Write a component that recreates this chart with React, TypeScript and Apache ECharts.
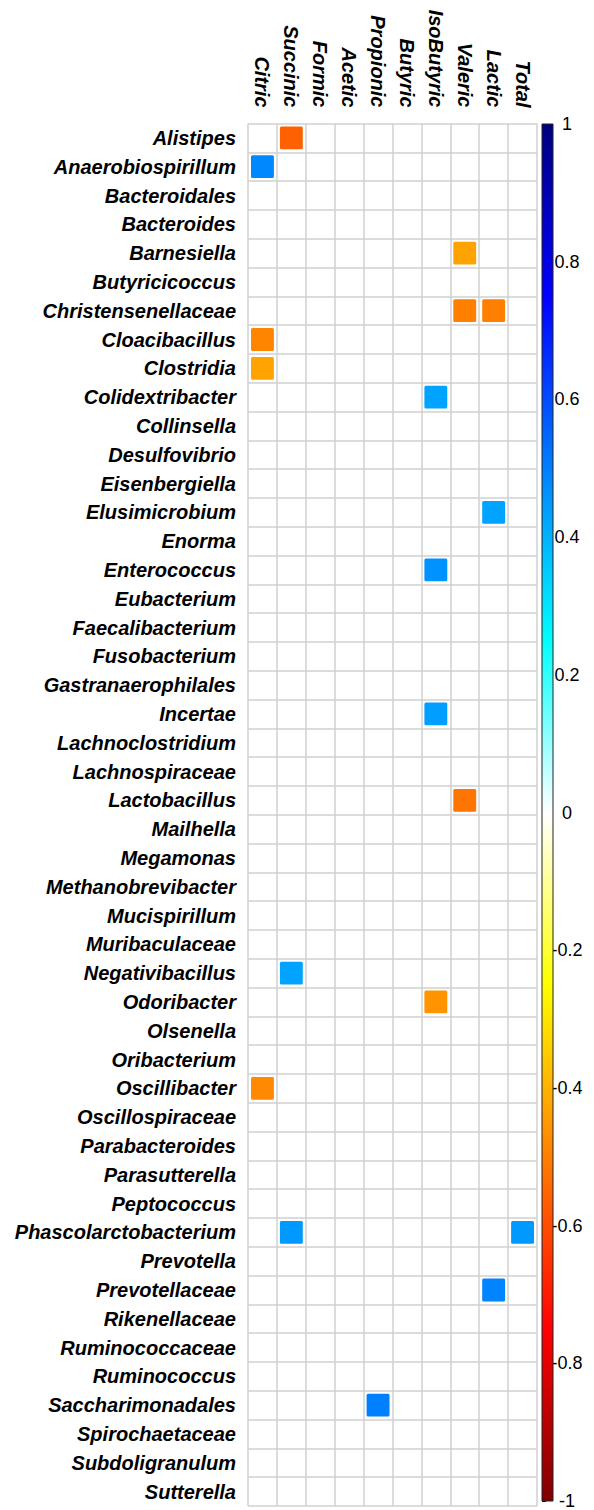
import React, { useEffect, useRef } from "react";
import * as echarts from "echarts";

const acids = ["Citric", "Succinic", "Formic", "Acetic", "Propionic", "Butyric", "IsoButyric", "Valeric", "Lactic", "Total"];

const genera = [
  "Alistipes", "Anaerobiospirillum", "Bacteroidales", "Bacteroides", "Barnesiella", "Butyricicoccus",
  "Christensenellaceae", "Cloacibacillus", "Clostridia", "Colidextribacter", "Collinsella", "Desulfovibrio",
  "Eisenbergiella", "Elusimicrobium", "Enorma", "Enterococcus", "Eubacterium", "Faecalibacterium",
  "Fusobacterium", "Gastranaerophilales", "Incertae", "Lachnoclostridium", "Lachnospiraceae", "Lactobacillus",
  "Mailhella", "Megamonas", "Methanobrevibacter", "Mucispirillum", "Muribaculaceae", "Negativibacillus",
  "Odoribacter", "Olsenella", "Oribacterium", "Oscillibacter", "Oscillospiraceae", "Parabacteroides",
  "Parasutterella", "Peptococcus", "Phascolarctobacterium", "Prevotella", "Prevotellaceae", "Rikenellaceae",
  "Ruminococcaceae", "Ruminococcus", "Saccharimonadales", "Spirochaetaceae", "Subdoligranulum", "Sutterella",
];

// significant correlations per acid: [genus, r]
const citricR: [string, number][] = [["Anaerobiospirillum", 0.48], ["Cloacibacillus", -0.49], ["Clostridia", -0.43], ["Oscillibacter", -0.48]];
const succinicR: [string, number][] = [["Alistipes", -0.56], ["Negativibacillus", 0.43], ["Phascolarctobacterium", 0.45]];
const propionicR: [string, number][] = [["Saccharimonadales", 0.5]];
const isoButyricR: [string, number][] = [["Colidextribacter", 0.43], ["Enterococcus", 0.46], ["Incertae", 0.44], ["Odoribacter", -0.46]];
const valericR: [string, number][] = [["Barnesiella", -0.43], ["Christensenellaceae", -0.5], ["Lactobacillus", -0.52]];
const lacticR: [string, number][] = [["Christensenellaceae", -0.5], ["Elusimicrobium", 0.43], ["Prevotellaceae", 0.49]];
const totalR: [string, number][] = [["Phascolarctobacterium", 0.45]];

const byAcid: Record<string, [string, number][]> = {
  Citric: citricR,
  Succinic: succinicR,
  Propionic: propionicR,
  IsoButyric: isoButyricR,
  Valeric: valericR,
  Lactic: lacticR,
  Total: totalR,
};

const scaleTicks = [1, 0.8, 0.6, 0.4, 0.2, 0, -0.2, -0.4, -0.6, -0.8, -1];
const palette = ["#7F0000", "#FF0000", "#FF7F00", "#FFFF00", "#FFFFFF", "#00FFFF", "#007FFF", "#0000FF", "#00007F"];

const FONT = "'Liberation Sans', Arial, Helvetica, sans-serif";

export default function App() {
  const ref = useRef<HTMLDivElement>(null);

  useEffect(() => {
    if (!ref.current) return;
    const chart = echarts.init(ref.current, undefined, { renderer: "svg" });

    const cells: number[][] = [];
    acids.forEach((a, xi) => {
      (byAcid[a] || []).forEach(([g, r]) => {
        cells.push([xi, genera.indexOf(g), r]);
      });
    });

    const stops = palette
      .slice()
      .reverse()
      .map((c, i) => ({ offset: i / (palette.length - 1), color: c }));

    const labelStyle = {
      fontFamily: FONT,
      fontSize: 20,
      fontWeight: "bold" as const,
      fontStyle: "italic" as const,
      color: "#000",
    };

    chart.setOption({
      animation: false,
      backgroundColor: "#fff",
      grid: [
        { left: 248, top: 123.5, width: 289, height: 1382.5, show: false },
        { left: 542, top: 124, width: 11, height: 1381, show: false },
      ],
      xAxis: [
        {
          gridIndex: 0,
          type: "category",
          data: acids,
          position: "top",
          axisLine: { show: false },
          axisTick: { show: false },
          splitLine: { show: true, lineStyle: { color: "#d0d0d0", width: 1.5 } },
          axisLabel: { ...labelStyle, rotate: 90, margin: 16, interval: 0 },
        },
        { gridIndex: 1, type: "value", min: 0, max: 1, show: false },
      ],
      yAxis: [
        {
          gridIndex: 0,
          type: "category",
          data: genera,
          inverse: true,
          axisLine: { show: false },
          axisTick: { show: false },
          splitLine: { show: true, lineStyle: { color: "#d0d0d0", width: 1.5 } },
          axisLabel: { ...labelStyle, margin: 12, interval: 0 },
        },
        {
          gridIndex: 1,
          type: "value",
          min: -1,
          max: 1,
          interval: 0.2,
          position: "right",
          splitLine: { show: false },
          axisLine: { show: false },
          axisTick: { show: true, length: 4, lineStyle: { color: "#000", width: 1 } },
          axisLabel: {
            fontFamily: FONT,
            fontSize: 18,
            color: "#000",
            align: "center",
            margin: 14,
            formatter: (v: number) => {
              const r = Math.round(v * 10) / 10;
              return scaleTicks.includes(r) ? (r === 0 ? "0" : String(r)) : "";
            },
          },
        },
      ],
      visualMap: {
        show: false,
        type: "continuous",
        min: -1,
        max: 1,
        dimension: 2,
        seriesIndex: 0,
        inRange: { color: palette },
      },
      series: [
        {
          type: "custom",
          xAxisIndex: 0,
          yAxisIndex: 0,
          encode: { x: 0, y: 1 },
          data: cells,
          renderItem: (params: any, api: any) => {
            const c = api.coord([api.value(0), api.value(1)]);
            const s = api.size([1, 1]);
            const w = s[0] - 6;
            const h = s[1] - 6;
            return {
              type: "rect",
              shape: { x: c[0] - w / 2, y: c[1] - h / 2, width: w, height: h, r: 1.5 },
              style: { fill: api.visual("color") },
            };
          },
        },
        {
          type: "custom",
          xAxisIndex: 1,
          yAxisIndex: 1,
          data: [[0, 1]],
          renderItem: (params: any, api: any) => {
            const top = api.coord([0, 1]);
            const bot = api.coord([1, -1]);
            return {
              type: "rect",
              shape: { x: top[0], y: top[1], width: bot[0] - top[0], height: bot[1] - top[1] },
              style: {
                fill: new echarts.graphic.LinearGradient(0, 0, 0, 1, stops),
                stroke: "#222",
                lineWidth: 1,
              },
            };
          },
        },
      ],
    });

    return () => chart.dispose();
  }, []);

  return (
    <div
      ref={ref}
      style={{ position: "absolute", left: 0, top: 0, width: 594, height: 1510 }}
    />
  );
}
